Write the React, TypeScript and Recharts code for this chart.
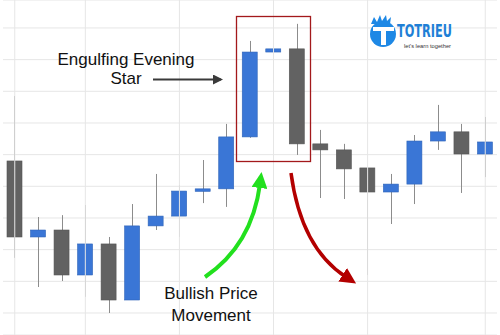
import React from "react";
import { ComposedChart, Bar, XAxis, YAxis, CartesianGrid, ReferenceLine } from "recharts";

const days = ["1", "2", "3", "4", "5", "6", "7", "8", "9", "10", "11", "12", "13", "14", "15", "16", "17", "18", "19", "20", "21"];
const opens = [14.8, 12.4, 12.62, 11.2, 12.18, 10.41, 12.75, 13.06, 13.85, 13.92, 15.56, 18.24, 18.34, 15.34, 15.15, 14.58, 13.82, 14.07, 15.43, 15.72, 15.02];
const closes = [12.4, 12.62, 11.2, 12.18, 10.41, 12.75, 13.06, 13.85, 13.92, 15.56, 18.24, 18.34, 15.34, 15.15, 14.55, 13.82, 14.07, 15.43, 15.72, 15.02, 15.4];
const highs = [16.85, 13.03, 13.09, 13.41, 12.4, 13.44, 14.39, 14.04, 14.83, 15.97, 18.59, 18.43, 19.13, 15.78, 15.34, 14.58, 14.39, 15.62, 16.57, 15.97, 16.19];
const lows = [11.74, 10.82, 11.01, 10.51, 10.0, 10.41, 12.62, 12.4, 13.47, 13.35, 15.53, 17.26, 14.99, 13.63, 13.6, 11.2, 12.81, 13.44, 15.15, 13.79, 14.29];
const priceTicks = [10, 11, 12, 13, 14, 15, 16, 17, 18, 19];
const weekLines = ["1", "4", "8", "12", "16", "21"];

const data = days.map((d, i) => ({
  day: d,
  open: opens[i],
  close: closes[i],
  high: highs[i],
  low: lows[i],
  range: [lows[i], highs[i]],
}));

const Candle = (props: any) => {
  const { x, y, width, height, payload } = props;
  const { open, close, high, low } = payload;
  const k = height / (high - low);
  const yOf = (v: number) => y + (high - v) * k;
  const bull = close >= open;
  const top = yOf(Math.max(open, close));
  const bot = yOf(Math.min(open, close));
  const cx = Math.round(x + width / 2) + 0.5;
  return (
    <g>
      <line x1={cx} x2={cx} y1={y} y2={y + height} stroke="#8c8c8c" strokeWidth={1} />
      <rect
        x={x}
        y={top}
        width={width}
        height={Math.max(bot - top, 2.5)}
        fill={bull ? "#3a76d6" : "#626262"}
        stroke={bull ? "#2f64b8" : "#555555"}
        strokeWidth={0.6}
      />
    </g>
  );
};

export default function App() {
  const font = "'Liberation Sans', Arial, sans-serif";
  return (
    <div style={{ position: "absolute", left: 0, top: 0, width: 500, height: 335, background: "#fff" }}>
      <ComposedChart width={500} height={335} data={data} margin={{ top: 0, right: 3, bottom: 0, left: 3 }}>
        <CartesianGrid vertical={false} stroke="#e6e6e6" />
        <XAxis dataKey="day" hide />
        <YAxis hide domain={[9.305, 19.883]} ticks={priceTicks} allowDataOverflow />
        {weekLines.map((w) => (
          <ReferenceLine key={w} x={w} stroke="#e6e6e6" />
        ))}
        <Bar dataKey="range" barSize={15} shape={Candle} isAnimationActive={false} />
      </ComposedChart>
      <svg width={500} height={335} style={{ position: "absolute", left: 0, top: 0, pointerEvents: "none" }}>
        <defs>
          <marker id="ah" markerWidth="10" markerHeight="10" refX="8" refY="5" orient="auto" markerUnits="userSpaceOnUse">
            <path d="M0,0 L10,5 L0,10 Z" fill="#3a3a3a" />
          </marker>
          <marker id="ahg" markerWidth="16" markerHeight="16" refX="4" refY="8" orient="auto" markerUnits="userSpaceOnUse">
            <path d="M0,0 L16,8 L0,16 Z" fill="#22e01e" />
          </marker>
          <marker id="ahr" markerWidth="16" markerHeight="16" refX="4" refY="8" orient="auto" markerUnits="userSpaceOnUse">
            <path d="M0,0 L16,8 L0,16 Z" fill="#b30000" />
          </marker>
        </defs>
        <rect x={236.5} y={16.5} width={74} height={145} fill="none" stroke="#a3191b" strokeWidth={1.3} />
        <text x={126} y={65} textAnchor="middle" fontFamily={font} fontSize={17} fill="#111">Engulfing Evening</text>
        <text x={126} y={84} textAnchor="middle" fontFamily={font} fontSize={17} fill="#111">Star</text>
        <line x1={153} y1={79.5} x2={221} y2={79.5} stroke="#3a3a3a" strokeWidth={2} markerEnd="url(#ah)" />
        <text x={211} y={299} textAnchor="middle" fontFamily={font} fontSize={17} fill="#111">Bullish Price</text>
        <text x={211} y={321} textAnchor="middle" fontFamily={font} fontSize={17} fill="#111">Movement</text>
        <path d="M205,277 Q252,245 260,184" fill="none" stroke="#22e01e" strokeWidth={4} markerEnd="url(#ahg)" />
        <path d="M291,173 Q301,248 346,277" fill="none" stroke="#b30000" strokeWidth={3.5} markerEnd="url(#ahr)" />
        <g>
          <path d="M371,24 L374,17 L377,22 L380,15 L382,21 L386,15 L387,21 L391,17 L390,24 Z" fill="#1e88e5" />
          <circle cx={383} cy={34} r={13} fill="#1e88e5" />
          <rect x={373} y={27} width={21} height={4} fill="#fff" />
          <rect x={381} y={27} width={5} height={18} fill="#fff" />
          <text x={397} y={37} fontFamily="'DejaVu Sans Condensed', 'Liberation Sans Narrow', sans-serif" fontWeight="bold" fontSize={18} fill="#1e7fd6" textLength={55} lengthAdjust="spacingAndGlyphs">TOTRIEU</text>
          <text x={404} y={47.5} fontFamily={font} fontSize={6} fill="#333" textLength={47} lengthAdjust="spacingAndGlyphs">let's learn together</text>
        </g>
      </svg>
    </div>
  );
}
